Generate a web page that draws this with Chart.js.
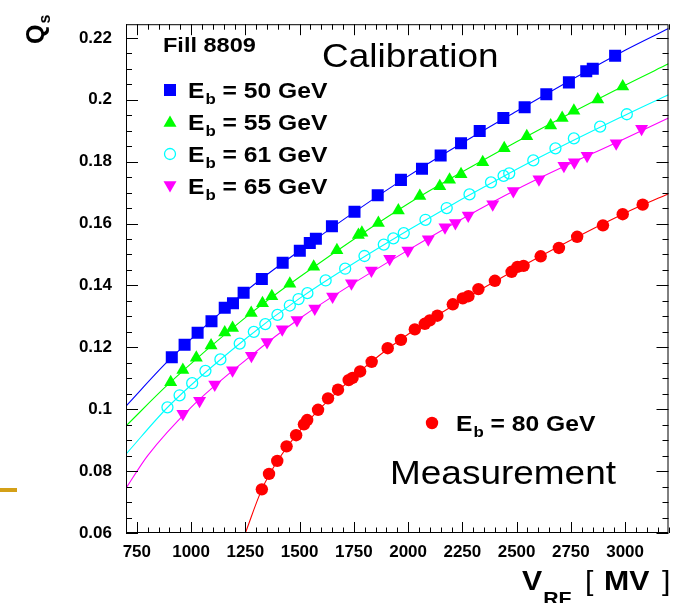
<!DOCTYPE html>
<html>
<head>
<meta charset="utf-8">
<script src="https://cdn.jsdelivr.net/npm/chart.js@4/dist/chart.umd.min.js"></script>
<style>
  html, body { margin: 0; padding: 0; background: #fff; }
  #c { display: block; }
</style>
</head>
<body>
<canvas id="c" width="677" height="603" style="width:677px;height:603px"></canvas>
<script>
// ---------- tick labels ----------
const xTicks = [750, 1000, 1250, 1500, 1750, 2000, 2250, 2500, 2750, 3000];
const yTicks = [0.06, 0.08, 0.10, 0.12, 0.14, 0.16, 0.18, 0.20, 0.22];

// ---------- series: E_b = 50 GeV (squares) ----------
const v50 = [911, 970, 1030, 1094, 1155, 1193, 1242, 1326, 1422, 1501, 1547, 1575, 1649, 1753, 1860, 1967, 2064, 2150, 2244, 2330, 2439, 2537, 2637, 2741, 2821, 2851, 2954];
const q50 = [0.1168, 0.1208, 0.1247, 0.1284, 0.1328, 0.1342, 0.1376, 0.1421, 0.1473, 0.1512, 0.1537, 0.1551, 0.1591, 0.1638, 0.1691, 0.1741, 0.1777, 0.1820, 0.1859, 0.1899, 0.1941, 0.1976, 0.2018, 0.2056, 0.2092, 0.2100, 0.2142];

// ---------- series: E_b = 55 GeV (triangles) ----------
const v55 = [906, 962, 1024, 1092, 1155, 1191, 1277, 1329, 1372, 1455, 1565, 1672, 1771, 1787, 1863, 1955, 2054, 2146, 2191, 2244, 2344, 2443, 2547, 2657, 2710, 2764, 2874, 2989];
const q55 = [0.1087, 0.1127, 0.1166, 0.1206, 0.1248, 0.1262, 0.1311, 0.1342, 0.1365, 0.1405, 0.1460, 0.1514, 0.1563, 0.1570, 0.1602, 0.1642, 0.1689, 0.1720, 0.1741, 0.1759, 0.1798, 0.1843, 0.1882, 0.1917, 0.1941, 0.1964, 0.2001, 0.2043];

// ---------- series: E_b = 61 GeV (open circles) ----------
const v61 = [891, 947, 1005, 1066, 1135, 1224, 1289, 1342, 1398, 1455, 1495, 1536, 1620, 1710, 1799, 1888, 1932, 1980, 2080, 2178, 2283, 2382, 2440, 2466, 2577, 2679, 2764, 2885, 3008];
const q61 = [0.1006, 0.1045, 0.1084, 0.1124, 0.1161, 0.1212, 0.1250, 0.1275, 0.1305, 0.1335, 0.1356, 0.1375, 0.1416, 0.1454, 0.1495, 0.1532, 0.1552, 0.1569, 0.1612, 0.1650, 0.1694, 0.1733, 0.1754, 0.1762, 0.1804, 0.1843, 0.1875, 0.1913, 0.1953];

// ---------- series: E_b = 65 GeV (inverted triangles) ----------
const v65 = [962, 1039, 1109, 1191, 1278, 1350, 1420, 1488, 1570, 1652, 1739, 1831, 1915, 1999, 2093, 2170, 2218, 2277, 2390, 2485, 2603, 2718, 2766, 2825, 2959, 3076];
const q65 = [0.0985, 0.1027, 0.1080, 0.1126, 0.1173, 0.1217, 0.1258, 0.1288, 0.1325, 0.1364, 0.1407, 0.1448, 0.1486, 0.1513, 0.1549, 0.1588, 0.1602, 0.1626, 0.1662, 0.1705, 0.1743, 0.1787, 0.1798, 0.1819, 0.1859, 0.1906];

// ---------- series: E_b = 80 GeV (measurement, filled circles) ----------
const v80 = [1326, 1359, 1397, 1440, 1484, 1520, 1535, 1585, 1631, 1677, 1726, 1744, 1779, 1832, 1906, 1967, 2031, 2077, 2100, 2135, 2206, 2252, 2278, 2324, 2400, 2477, 2504, 2532, 2611, 2695, 2779, 2898, 2989, 3081];
const q80 = [0.0741, 0.0791, 0.0833, 0.0880, 0.0916, 0.0951, 0.0965, 0.0998, 0.1035, 0.1063, 0.1094, 0.1101, 0.1122, 0.1153, 0.1197, 0.1224, 0.1258, 0.1276, 0.1287, 0.1302, 0.1339, 0.1358, 0.1365, 0.1388, 0.1415, 0.1444, 0.1460, 0.1463, 0.1494, 0.1521, 0.1557, 0.1594, 0.1630, 0.1661];

// ---------- fitted curves ----------
const fitV50 = [700, 900, 1250, 1500, 2000, 2500, 3000, 3200];
const fitQ50 = [0.1010, 0.1160, 0.1380, 0.1512, 0.1753, 0.1963, 0.2160, 0.2230];
const fitV55 = [700, 900, 1250, 1500, 2000, 2500, 3000, 3200];
const fitQ55 = [0.0946, 0.1084, 0.1296, 0.1427, 0.1664, 0.1864, 0.2047, 0.2116];
const fitV61 = [700, 900, 1250, 1500, 2000, 2500, 3000, 3200];
const fitQ61 = [0.0855, 0.1012, 0.1227, 0.1358, 0.1578, 0.1775, 0.1950, 0.2016];
const fitV65 = [700, 800, 1000, 1250, 1500, 2000, 2500, 3000, 3200];
const fitQ65 = [0.0745, 0.0850, 0.1006, 0.1158, 0.1293, 0.1514, 0.1710, 0.1875, 0.1941];
const fitV80 = [1250, 1326, 1400, 1500, 1750, 2000, 2500, 3000, 3200];
const fitQ80 = [0.0600, 0.0741, 0.0835, 0.0930, 0.1105, 0.1242, 0.1452, 0.1634, 0.1696];

const labels = ['50', '55', '61', '65', '80'];

// ---------- helpers ----------
const pts = (vs, qs) => vs.map((v, i) => ({ x: v, y: qs[i] }));
const FONT = "'Liberation Sans', Arial, Helvetica, sans-serif";
const SX = 1.12;

function markerDS(vs, qs, color, style, radius, rotation, open) {
  return {
    data: pts(vs, qs), showLine: false,
    pointStyle: style, pointRadius: radius, pointHoverRadius: radius,
    pointRotation: rotation || 0,
    backgroundColor: open ? 'rgba(0,0,0,0)' : color,
    borderColor: color, pointBorderWidth: open ? 1.3 : 0,
    order: 0
  };
}
function lineDS(vs, qs, color) {
  return {
    data: pts(vs, qs), showLine: true, pointRadius: 0, pointHoverRadius: 0,
    borderColor: color, borderWidth: 1.1, fill: false,
    cubicInterpolationMode: 'monotone', order: 1
  };
}

const BLUE = '#0000ff', GREEN = '#00ff00', CYAN = '#00ffff', MAG = '#ff00ff', RED = '#ff0000';

function txt(ctx, s, x, y, font) {
  ctx.save();
  ctx.font = font;
  ctx.fillStyle = '#000';
  ctx.textBaseline = 'alphabetic';
  ctx.textAlign = 'left';
  ctx.translate(x, y);
  ctx.scale(SX, 1);
  ctx.fillText(s, 0, 0);
  const w = ctx.measureText(s).width * SX;
  ctx.restore();
  return w;
}
function drawEb(ctx, x, y, val) {
  const w1 = txt(ctx, 'E', x, y + 8, 'bold 22px ' + FONT);
  const w2 = txt(ctx, 'b', x + w1 + 1, y + 14, 'bold 15px ' + FONT);
  txt(ctx, ' = ' + val + ' GeV', x + w1 + w2 + 1, y + 8, 'bold 22px ' + FONT);
}
function drawMarker(ctx, style, color, radius, rotation, open, x, y) {
  ctx.save();
  ctx.fillStyle = open ? 'rgba(0,0,0,0)' : color;
  ctx.strokeStyle = color;
  ctx.lineWidth = open ? 1.3 : 0;
  Chart.helpers.drawPoint(ctx, { pointStyle: style, radius: radius, rotation: rotation, borderWidth: open ? 1.3 : 0 }, x, y);
  ctx.restore();
}

const decor = {
  id: 'decor',
  afterDatasetsDraw(chart) {
    const ctx = chart.ctx;
    const a = chart.chartArea;
    const xs = chart.scales.x, ys = chart.scales.y;
    ctx.save();
    // frame
    ctx.strokeStyle = '#000';
    ctx.lineWidth = 1;
    ctx.strokeRect(a.left + 0.5, a.top + 0.5, a.right - a.left - 1, a.bottom - a.top - 1);
    // x ticks (bottom & top), minor every 50
    ctx.beginPath();
    for (let v = 700; v <= 3200; v += 50) {
      const px = Math.round(xs.getPixelForValue(v)) + 0.5;
      const major = (v - 750) % 250 === 0;
      const L = major ? 11 : 5.5;
      ctx.moveTo(px, a.bottom); ctx.lineTo(px, a.bottom - L);
      ctx.moveTo(px, a.top); ctx.lineTo(px, a.top + L);
    }
    // y ticks (left & right), minor every 0.005
    for (let k = 0; k <= 32; k++) {
      const v = 0.06 + k * 0.005;
      if (v > 0.2245) break;
      const py = Math.round(ys.getPixelForValue(v)) + 0.5;
      const major = k % 4 === 0;
      const L = major ? 12 : 6;
      ctx.moveTo(a.left, py); ctx.lineTo(a.left + L, py);
      ctx.moveTo(a.right, py); ctx.lineTo(a.right - L, py);
    }
    ctx.stroke();

    // texts
    txt(ctx, 'Fill 8809', 163, 52, 'bold 21px ' + FONT);
    txt(ctx, 'Calibration', 322, 67, '33px ' + FONT);
    txt(ctx, 'Measurement', 390, 484, '33px ' + FONT);

    // legend
    const rows = [90, 122, 154, 186];
    drawMarker(ctx, 'rect', BLUE, 8.5, 0, false, 170, rows[0]);
    drawMarker(ctx, 'triangle', GREEN, 7.5, 0, false, 170, rows[1] + 1);
    drawMarker(ctx, 'circle', CYAN, 5.5, 0, true, 170, rows[2]);
    drawMarker(ctx, 'triangle', MAG, 7.5, 180, false, 170, rows[3] - 1);
    for (let i = 0; i < 4; i++) drawEb(ctx, 188, rows[i], labels[i]);
    drawMarker(ctx, 'circle', RED, 6.2, 0, false, 432, 423);
    drawEb(ctx, 456, 423, labels[4]);

    // y-axis title Q_s (rotated)
    ctx.save();
    ctx.translate(44, 44);
    ctx.rotate(-Math.PI / 2);
    ctx.fillStyle = '#000';
    ctx.font = 'bold 25px ' + FONT;
    ctx.fillText('Q', 0, 0);
    const wq = ctx.measureText('Q').width;
    ctx.font = 'bold 16px ' + FONT;
    ctx.fillText('s', wq + 1, 6);
    ctx.restore();

    // x-axis title V_RF [ MV ]
    const w1 = txt(ctx, 'V', 522, 590, 'bold 27px ' + FONT);
    txt(ctx, 'RF', 522 + w1 + 1, 605, 'bold 19px ' + FONT);
    txt(ctx, '[', 585, 590, '27px ' + FONT);
    txt(ctx, 'MV', 604, 590, 'bold 27px ' + FONT);
    txt(ctx, ']', 662, 590, '27px ' + FONT);

    // orange mark at left edge
    ctx.fillStyle = '#d4a017';
    ctx.fillRect(0, 488, 17, 4);
    ctx.restore();
  }
};

const tickFont = { family: FONT, size: 17, weight: 'bold' };

new Chart(document.getElementById('c'), {
  type: 'scatter',
  data: {
    datasets: [
      markerDS(v50, q50, BLUE, 'rect', 8.5),
      markerDS(v55, q55, GREEN, 'triangle', 7.5),
      markerDS(v61, q61, CYAN, 'circle', 5.5, 0, true),
      markerDS(v65, q65, MAG, 'triangle', 7.5, 180),
      markerDS(v80, q80, RED, 'circle', 6.2),
      lineDS(fitV50, fitQ50, BLUE),
      lineDS(fitV55, fitQ55, GREEN),
      lineDS(fitV61, fitQ61, CYAN),
      lineDS(fitV65, fitQ65, MAG),
      lineDS(fitV80, fitQ80, RED)
    ]
  },
  options: {
    responsive: false,
    animation: false,
    devicePixelRatio: 1,
    layout: { padding: { top: 11, right: 5, left: 0, bottom: 0 } },
    plugins: { legend: { display: false }, tooltip: { enabled: false } },
    scales: {
      x: {
        type: 'linear', min: 700, max: 3200,
        afterBuildTicks: s => { s.ticks = xTicks.map(v => ({ value: v })); },
        afterFit: s => { s.height = 70; },
        grid: { display: false, drawTicks: false },
        border: { display: false },
        ticks: { font: tickFont, color: '#000', padding: 9, maxRotation: 0, autoSkip: false,
                 callback: v => String(v) }
      },
      y: {
        type: 'linear', min: 0.06, max: 0.2244,
        afterBuildTicks: s => { s.ticks = yTicks.map(v => ({ value: v })); },
        afterFit: s => { s.width = 126; },
        grid: { display: false, drawTicks: false },
        border: { display: false },
        ticks: { font: tickFont, color: '#000', padding: 14, autoSkip: false,
                 callback: v => String(+(+v).toFixed(2)) }
      }
    }
  },
  plugins: [decor]
});
</script>
</body>
</html>
